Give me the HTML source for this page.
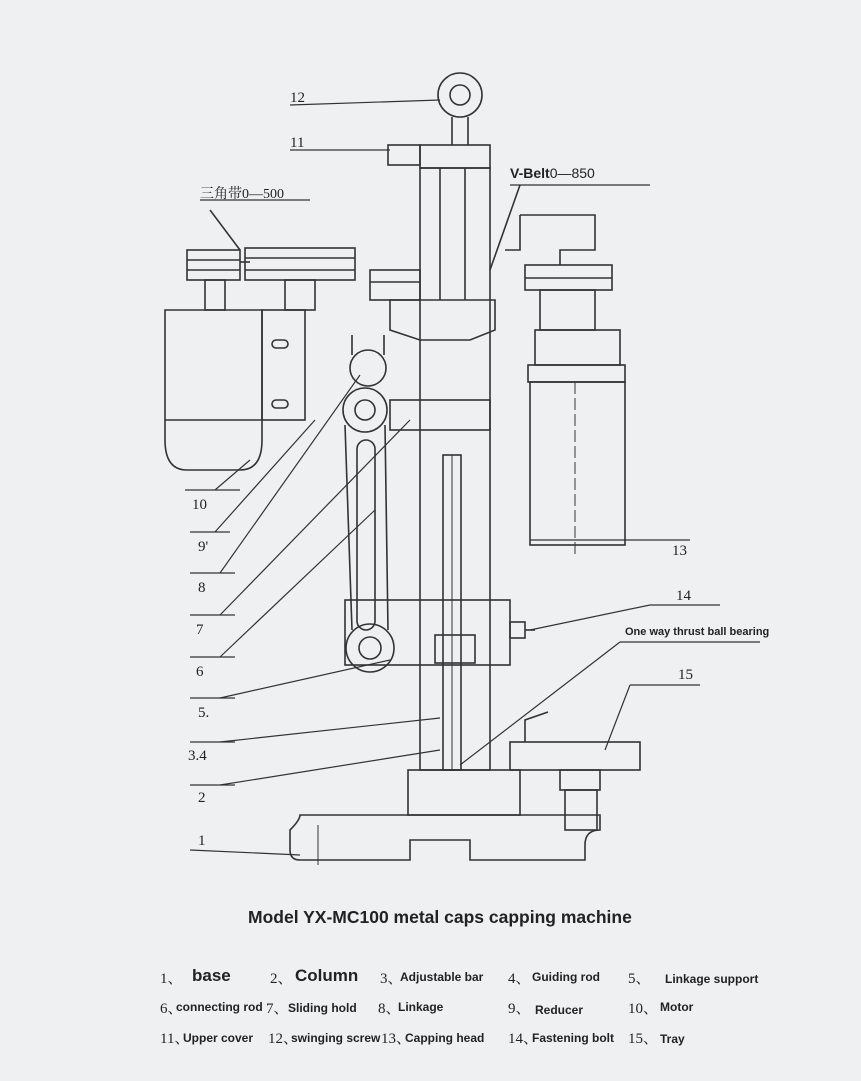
<!DOCTYPE html>
<html><head><style>
body{margin:0;width:861px;height:1081px;background:#eff0f2;overflow:hidden;position:relative;font-family:"Liberation Sans","Noto Sans CJK SC",sans-serif;color:#222}
.t{position:absolute;white-space:nowrap}
.s{font-family:"Liberation Serif","Noto Serif CJK SC",serif;font-size:15px}
.l{font-size:12px;font-weight:bold}
.b{font-size:17px;font-weight:bold}
</style></head><body>
<svg width="861" height="1081" style="position:absolute;left:0;top:0" fill="none" stroke="#333" stroke-width="1.6">
<circle cx="460" cy="95" r="22"/><circle cx="460" cy="95" r="10"/>
<line x1="452" y1="117" x2="452" y2="145"/><line x1="468" y1="117" x2="468" y2="145"/>
<rect x="420" y="145" width="70" height="23"/>
<rect x="388" y="145" width="32" height="20"/>
<rect x="420" y="168" width="70" height="602"/>
<line x1="440" y1="168" x2="440" y2="300"/><line x1="465" y1="168" x2="465" y2="300"/>
<rect x="443" y="455" width="18" height="315"/>
<line x1="452" y1="455" x2="452" y2="770" stroke-width="1"/>
<polygon points="390,300 495,300 495,330 470,340 420,340 390,330"/>
<rect x="390" y="400" width="100" height="30"/>
<rect x="187" y="250" width="53" height="30"/>
<line x1="187" y1="260" x2="240" y2="260"/><line x1="187" y1="270" x2="240" y2="270"/>
<rect x="205" y="280" width="20" height="30"/>
<path d="M165 310 H262 V440 Q262 470 240 470 H187 Q165 470 165 440 Z"/>
<line x1="165" y1="420" x2="262" y2="420"/>
<rect x="262" y="310" width="43" height="110"/>
<rect x="272" y="340" width="16" height="8" rx="4"/><rect x="272" y="400" width="16" height="8" rx="4"/>
<rect x="245" y="248" width="110" height="32"/>
<line x1="245" y1="258" x2="355" y2="258"/><line x1="245" y1="270" x2="355" y2="270"/>
<rect x="285" y="280" width="30" height="30"/>
<rect x="370" y="270" width="50" height="30"/>
<line x1="370" y1="282" x2="420" y2="282"/>
<line x1="210" y1="210" x2="240" y2="250"/>
<line x1="240" y1="262" x2="250" y2="262"/>
<path d="M520 185 L490 270"/>
<path d="M520 215 H595 V250 H560 V265 M520 215 V250 H505" />
<rect x="525" y="265" width="87" height="25"/>
<line x1="525" y1="278" x2="612" y2="278"/>
<rect x="540" y="290" width="55" height="40"/>
<rect x="535" y="330" width="85" height="35"/>
<rect x="528" y="365" width="97" height="17"/>
<rect x="530" y="382" width="95" height="163"/>
<line x1="575" y1="382" x2="575" y2="555" stroke-width="1" stroke-dasharray="12 4"/>
<circle cx="368" cy="368" r="18"/><circle cx="365" cy="410" r="22"/><circle cx="365" cy="410" r="10"/>
<path d="M352 335 L352 355 M384 335 L384 355"/>
<rect x="357" y="440" width="18" height="190" rx="9"/>
<line x1="345" y1="425" x2="352" y2="630"/><line x1="385" y1="425" x2="388" y2="630"/>
<rect x="345" y="600" width="165" height="65"/>
<circle cx="370" cy="648" r="24"/><circle cx="370" cy="648" r="11"/>
<rect x="435" y="635" width="40" height="28"/>
<rect x="510" y="622" width="15" height="16"/><line x1="525" y1="630" x2="535" y2="630"/>
<rect x="408" y="770" width="112" height="45"/>
<path d="M300 815 H600 V830 Q585 830 585 845 V860 H470 V840 H410 V860 H300 Q290 860 290 850 V830 Q300 820 300 815 Z"/>
<line x1="318" y1="825" x2="318" y2="865" stroke-width="1"/>
<rect x="510" y="742" width="130" height="28"/>
<path d="M525 742 L525 720 L548 712"/>
<rect x="560" y="770" width="40" height="20"/><rect x="565" y="790" width="32" height="40"/>
<g stroke-width="1.2">
<line x1="290" y1="105" x2="440" y2="100"/><line x1="290" y1="150" x2="390" y2="150"/>
<line x1="200" y1="200" x2="310" y2="200"/>
<line x1="510" y1="185" x2="650" y2="185"/>
<line x1="185" y1="490" x2="240" y2="490"/><line x1="215" y1="490" x2="250" y2="460"/>
<line x1="190" y1="532" x2="230" y2="532"/><line x1="215" y1="532" x2="315" y2="420"/>
<line x1="190" y1="573" x2="235" y2="573"/><line x1="220" y1="573" x2="360" y2="375"/>
<line x1="190" y1="615" x2="235" y2="615"/><line x1="220" y1="615" x2="410" y2="420"/>
<line x1="190" y1="657" x2="235" y2="657"/><line x1="220" y1="657" x2="375" y2="510"/>
<line x1="190" y1="698" x2="235" y2="698"/><line x1="220" y1="698" x2="390" y2="660"/>
<line x1="190" y1="742" x2="235" y2="742"/><line x1="220" y1="742" x2="440" y2="718"/>
<line x1="190" y1="785" x2="235" y2="785"/><line x1="220" y1="785" x2="440" y2="750"/>
<line x1="190" y1="850" x2="300" y2="855"/>
<line x1="530" y1="540" x2="690" y2="540"/>
<line x1="650" y1="605" x2="720" y2="605"/><line x1="650" y1="605" x2="530" y2="630"/>
<line x1="620" y1="642" x2="760" y2="642"/><line x1="620" y1="642" x2="460" y2="765"/>
<line x1="630" y1="685" x2="700" y2="685"/><line x1="630" y1="685" x2="605" y2="750"/>
</g>
</svg>
<div class="t s" style="left:290px;top:90px">12</div>
<div class="t s" style="left:290px;top:135px">11</div>
<div class="t s" style="left:200px;top:183px;font-size:14px">三角带0—500</div>
<div class="t" style="left:510px;top:165px;font-size:14px"><b>V-Belt</b>0—850</div>
<div class="t s" style="left:192px;top:497px">10</div>
<div class="t s" style="left:198px;top:539px">9'</div>
<div class="t s" style="left:198px;top:580px">8</div>
<div class="t s" style="left:196px;top:622px">7</div>
<div class="t s" style="left:196px;top:664px">6</div>
<div class="t s" style="left:198px;top:705px">5.</div>
<div class="t s" style="left:188px;top:748px">3.4</div>
<div class="t s" style="left:198px;top:790px">2</div>
<div class="t s" style="left:198px;top:833px">1</div>
<div class="t s" style="left:672px;top:543px">13</div>
<div class="t s" style="left:676px;top:588px">14</div>
<div class="t" style="left:625px;top:626px;font-size:11px;font-weight:bold">One way thrust ball bearing</div>
<div class="t s" style="left:678px;top:667px">15</div>
<div class="t" style="left:248px;top:907px;font-size:17.5px;font-weight:bold">Model YX-MC100 metal caps capping machine</div>

<div class="t s" style="left:160px;top:967px">1、</div><div class="t b" style="left:192px;top:966px">base</div>
<div class="t s" style="left:270px;top:967px">2、</div><div class="t b" style="left:295px;top:966px">Column</div>
<div class="t s" style="left:380px;top:967px">3、</div><div class="t l" style="left:400px;top:970px">Adjustable bar</div>
<div class="t s" style="left:508px;top:967px">4、</div><div class="t l" style="left:532px;top:970px">Guiding rod</div>
<div class="t s" style="left:628px;top:967px">5、</div><div class="t l" style="left:665px;top:972px">Linkage support</div>

<div class="t s" style="left:160px;top:997px">6、</div><div class="t l" style="left:176px;top:1000px">connecting rod</div>
<div class="t s" style="left:266px;top:997px">7、</div><div class="t l" style="left:288px;top:1001px">Sliding hold</div>
<div class="t s" style="left:378px;top:997px">8、</div><div class="t l" style="left:398px;top:1000px">Linkage</div>
<div class="t s" style="left:508px;top:997px">9、</div><div class="t l" style="left:535px;top:1003px">Reducer</div>
<div class="t s" style="left:628px;top:997px">10、</div><div class="t l" style="left:660px;top:1000px">Motor</div>

<div class="t s" style="left:160px;top:1027px">11、</div><div class="t l" style="left:183px;top:1031px">Upper cover</div>
<div class="t s" style="left:268px;top:1027px">12、</div><div class="t l" style="left:291px;top:1031px">swinging screw</div>
<div class="t s" style="left:381px;top:1027px">13、</div><div class="t l" style="left:405px;top:1031px">Capping head</div>
<div class="t s" style="left:508px;top:1027px">14、</div><div class="t l" style="left:532px;top:1031px">Fastening bolt</div>
<div class="t s" style="left:628px;top:1027px">15、</div><div class="t l" style="left:660px;top:1032px">Tray</div>
</body></html>
